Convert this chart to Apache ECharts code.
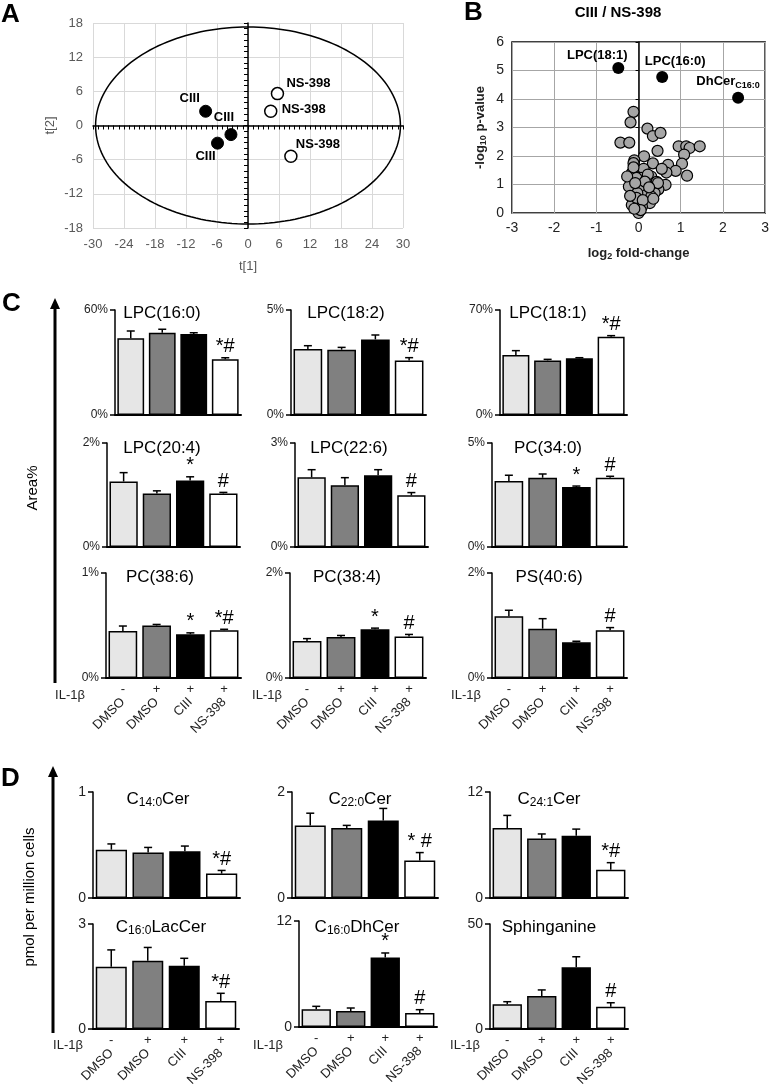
<!DOCTYPE html>
<html><head><meta charset="utf-8">
<script src="https://cdn.jsdelivr.net/npm/echarts@6/dist/echarts.min.js"></script>
<style>html,body{margin:0;padding:0;background:#fff}#c{width:772px;height:1091px}</style>
</head><body><div id="c"></div>
<script>
// ---------------- DATA ----------------
// Panel A (PCA scores)
const pcaCIII = [[-8.2, 2.5], [-3.3, -1.6], [-5.9, -3.1]];
const pcaNS398 = [[5.7, 5.6], [4.4, 2.5], [8.3, -5.4]];
const pcaEllipse = [0, 0, 29.5, 17.3]; // centre x, centre y, radius t[1], radius t[2]
const pcaLabelCIII = 'CIII';
const pcaLabelNS = 'NS-398';

// Panel B (volcano)
const volcanoGray = [
  [-0.12,3.55],[-0.19,3.18],[0.21,2.96],[0.34,2.70],[0.52,2.81],[-0.43,2.47],[-0.22,2.47],
  [0.45,2.18],[0.95,2.34],[1.13,2.34],[1.21,2.28],[1.45,2.34],[1.08,2.05],[0.13,1.99],
  [-0.10,1.85],[-0.12,1.75],[0.34,1.74],[1.03,1.73],[0.70,1.69],[0.12,1.55],[0.88,1.48],
  [0.66,1.42],[1.15,1.31],[-0.16,1.40],[0.30,1.28],[0.06,1.23],[-0.05,1.23],[0.43,1.09],
  [-0.23,0.93],[0.04,0.88],[0.64,0.99],[0.47,0.83],[0.19,0.64],[-0.08,0.47],[0.27,0.35],
  [0.08,0.23],[-0.16,0.28],[0.0,0.0],[-0.12,1.60],[0.22,1.35],[-0.27,1.28],[0.38,0.70],
  [-0.03,0.70],[0.46,1.05],[0.30,0.58],[-0.05,0.53],[0.15,1.10],[-0.20,0.60],[0.10,0.45],
  [0.55,1.55],[0.05,0.10],[-0.08,1.05],[0.25,0.90],[0.35,0.50],[-0.10,0.15]
];
const volcanoHits = [[-0.48, 5.09], [0.56, 4.77], [2.36, 4.04]];
const volcanoHitNames = ['LPC(18:1)', 'LPC(16:0)', 'DhCer'];
const volcanoHitSubs = ['', '', 'C16:0'];

// Panels C / D shared categories
const groups = ['DMSO', 'DMSO', 'CIII', 'NS-398'];
const il1b = ['-', '+', '+', '+'];

// Panel C (Area%)
const cTitles = ['LPC(16:0)', 'LPC(18:2)', 'LPC(18:1)', 'LPC(20:4)', 'LPC(22:6)', 'PC(34:0)', 'PC(38:6)', 'PC(38:4)', 'PS(40:6)'];
const cMax = [60, 5, 70, 2, 3, 5, 1, 2, 2];
const cMeans = [
  [43.8, 47.0, 46.3, 31.8],
  [3.14, 3.11, 3.60, 2.59],
  [40.0, 36.4, 37.8, 52.2],
  [1.26, 1.03, 1.28, 1.03],
  [2.01, 1.78, 2.07, 1.49],
  [3.17, 3.33, 2.88, 3.33],
  [0.448, 0.50, 0.416, 0.454],
  [0.705, 0.78, 0.93, 0.79],
  [1.175, 0.94, 0.68, 0.91]
];
const cErr = [
  [4.2, 2.0, 0.7, 0.9],
  [0.16, 0.11, 0.21, 0.14],
  [2.9, 0.7, 0.4, 0.7],
  [0.17, 0.05, 0.07, 0.02],
  [0.22, 0.22, 0.16, 0.08],
  [0.28, 0.18, 0.05, 0.07],
  [0.047, 0.01, 0.014, 0.01],
  [0.045, 0.03, 0.02, 0.04],
  [0.115, 0.19, 0.02, 0.05]
];
const cSig = [
  ['', '', '', '*#'], ['', '', '', '*#'], ['', '', '', '*#'],
  ['', '', '*', '#'], ['', '', '', '#'], ['', '', '*', '#'],
  ['', '', '*', '*#'], ['', '', '*', '#'], ['', '', '', '#']
];

// Panel D (pmol per million cells)
const dTitleMain = ['C', 'C', 'C', 'C', 'C', 'Sphinganine'];
const dTitleSub = ['14:0', '22:0', '24:1', '16:0', '16:0', ''];
const dTitleTail = ['Cer', 'Cer', 'Cer', 'LacCer', 'DhCer', ''];
const dMax = [1, 2, 12, 3, 12, 50];
const dMeans = [
  [0.456, 0.43, 0.44, 0.23],
  [1.37, 1.32, 1.46, 0.707],
  [7.92, 6.75, 7.05, 3.2],
  [1.78, 1.95, 1.81, 0.8],
  [2.0, 1.81, 7.86, 1.58],
  [11.8, 15.7, 29.4, 10.6]
];
const dErr = [
  [0.054, 0.047, 0.05, 0.03],
  [0.23, 0.05, 0.23, 0.15],
  [1.43, 0.5, 0.75, 0.8],
  [0.48, 0.38, 0.21, 0.22],
  [0.34, 0.34, 0.52, 0.38],
  [1.2, 2.9, 5.0, 1.9]
];
const dSig = [
  ['', '', '', '*#'], ['', '', '', '* #'], ['', '', '', '*#'],
  ['', '', '', '*#'], ['', '', '*', '#'], ['', '', '', '#']
];

// ---------------- LAYOUT / STYLE ----------------
const FONT = 'Liberation Sans, Arial, sans-serif';
const barColors = ['#e6e6e6', '#808080', '#000000', '#ffffff'];
const cBoxes = [
  [115, 310, 126, 105], [291, 310, 135, 105], [500, 310, 127, 105],
  [107, 443, 133, 104], [295, 443, 133, 104], [492, 443, 135, 104],
  [106, 573, 135, 105], [290, 573, 136, 105], [492, 573, 135, 105]
];
const cTitlePos = [[162, 313], [346, 313], [548, 313], [162, 448], [349, 448], [548, 448], [160, 577], [347, 577], [549, 577]];
const dBoxes = [
  [93, 792, 147, 106], [292, 792, 146, 106], [490, 792, 138, 106],
  [93, 924, 146, 105], [299, 921, 138, 106], [490, 924, 138, 105]
];
const dTitlePos = [[158, 799], [360, 799], [549, 799], [161, 927], [357, 927], [549, 927]];
const pcaLabelOffCIII = [[-16, -13], [-7, -17], [-12, 13]];
const pcaLabelOffNS = [[31, -10], [33, -2], [27, -12]];
const hitLabelOff = [[-21, -13], [13, -16], [-10, -16]];

const grids = [], xAxes = [], yAxes = [], series = [], graphics = [];

// ---------------- PANEL A ----------------
grids.push({left: 93, top: 23, width: 310, height: 205});
xAxes.push({gridIndex: 0, type: 'value', min: -30, max: 30, interval: 6,
  axisLine: {show: false, onZero: false}, axisTick: {show: false},
  axisLabel: {color: '#595959', fontSize: 13, margin: 10, fontFamily: FONT},
  splitLine: {lineStyle: {color: '#d9d9d9', width: 1}},
  name: 't[1]', nameLocation: 'middle', nameGap: 32,
  nameTextStyle: {color: '#595959', fontSize: 13, fontFamily: FONT}});
xAxes.push({gridIndex: 0, type: 'value', min: -30, max: 30, interval: 1, position: 'bottom',
  axisLine: {onZero: true, lineStyle: {color: '#000', width: 1.5}},
  axisTick: {show: true, length: 4, lineStyle: {color: '#000', width: 1}},
  axisLabel: {show: false}, splitLine: {show: false}});
yAxes.push({gridIndex: 0, type: 'value', min: -18, max: 18, interval: 6,
  axisLine: {show: false, onZero: false}, axisTick: {show: false},
  axisLabel: {color: '#595959', fontSize: 13, margin: 10, fontFamily: FONT},
  splitLine: {lineStyle: {color: '#d9d9d9', width: 1}},
  name: 't[2]', nameLocation: 'middle', nameGap: 36, nameRotate: 90,
  nameTextStyle: {color: '#595959', fontSize: 13, fontFamily: FONT}});
yAxes.push({gridIndex: 0, type: 'value', min: -18, max: 18, interval: 1, position: 'left',
  axisLine: {onZero: true, lineStyle: {color: '#000', width: 1.5}},
  axisTick: {show: true, length: 4, lineStyle: {color: '#000', width: 1}},
  axisLabel: {show: false}, splitLine: {show: false}});

series.push({type: 'custom', xAxisIndex: 0, yAxisIndex: 0, z: 3, silent: true,
  data: [pcaEllipse],
  renderItem: function (params, api) {
    const c = api.coord([api.value(0), api.value(1)]);
    const sz = api.size([api.value(2), api.value(3)]);
    const pts = [];
    for (let k = 0; k <= 180; k++) {
      const t = k / 180 * 2 * Math.PI;
      pts.push([c[0] + sz[0] * Math.cos(t), c[1] + sz[1] * Math.sin(t)]);
    }
    return {type: 'polyline', shape: {points: pts}, style: {fill: 'none', stroke: '#000', lineWidth: 1.5}};
  }});
series.push({type: 'scatter', xAxisIndex: 0, yAxisIndex: 0, z: 5, symbolSize: 12,
  itemStyle: {color: '#000', borderColor: '#000', borderWidth: 1, opacity: 1},
  data: pcaCIII.map((p, i) => ({value: p, label: {offset: pcaLabelOffCIII[i]}})),
  label: {show: true, position: 'inside', formatter: pcaLabelCIII, color: '#000', fontWeight: 'bold', fontSize: 13, fontFamily: FONT}});
series.push({type: 'scatter', xAxisIndex: 0, yAxisIndex: 0, z: 5, symbolSize: 12,
  itemStyle: {color: '#fff', borderColor: '#000', borderWidth: 1.5, opacity: 1},
  data: pcaNS398.map((p, i) => ({value: p, label: {offset: pcaLabelOffNS[i]}})),
  label: {show: true, position: 'inside', formatter: pcaLabelNS, color: '#000', fontWeight: 'bold', fontSize: 13, fontFamily: FONT}});

// ---------------- PANEL B ----------------
grids.push({left: 512, top: 42, width: 256, height: 171, show: true, borderColor: '#000', borderWidth: 1.5, backgroundColor: 'transparent'});
xAxes.push({gridIndex: 1, type: 'value', min: -3, max: 3, interval: 1,
  axisLine: {show: false, onZero: false}, axisTick: {show: false},
  axisLabel: {color: '#222', fontSize: 14, margin: 8, fontFamily: FONT},
  splitLine: {lineStyle: {color: '#a6a6a6', width: 1}},
  name: '{b|log}{s|2}{b| fold-change}', nameLocation: 'middle', nameGap: 32,
  nameTextStyle: {color: '#222', rich: {
    b: {fontSize: 13, fontWeight: 'bold', fontFamily: FONT, color: '#222', lineHeight: 16},
    s: {fontSize: 9, fontWeight: 'bold', fontFamily: FONT, color: '#222', lineHeight: 9, padding: [7, 0, 0, 0]}}}});
yAxes.push({gridIndex: 1, type: 'value', min: 0, max: 6, interval: 1,
  axisLine: {show: false, onZero: false}, axisTick: {show: false},
  axisLabel: {color: '#222', fontSize: 14, margin: 8, fontFamily: FONT},
  splitLine: {lineStyle: {color: '#a6a6a6', width: 1}},
  name: '{b|-log}{s|10}{b| p-value}', nameLocation: 'middle', nameGap: 24, nameRotate: 90,
  nameTextStyle: {color: '#222', rich: {
    b: {fontSize: 13, fontWeight: 'bold', fontFamily: FONT, color: '#222', lineHeight: 16},
    s: {fontSize: 9, fontWeight: 'bold', fontFamily: FONT, color: '#222', lineHeight: 9, padding: [7, 0, 0, 0]}}}});
yAxes.push({gridIndex: 1, type: 'value', min: 0, max: 6, interval: 1, position: 'left',
  axisLine: {onZero: true, lineStyle: {color: '#000', width: 1.5}},
  axisTick: {show: true, length: 3, lineStyle: {color: '#000', width: 1}},
  axisLabel: {show: false}, splitLine: {show: false}});
series.push({type: 'scatter', xAxisIndex: 2, yAxisIndex: 2, z: 5, symbolSize: 11,
  itemStyle: {color: '#a6a6a6', borderColor: '#000', borderWidth: 1.2, opacity: 1},
  data: volcanoGray});
series.push({type: 'scatter', xAxisIndex: 2, yAxisIndex: 2, z: 6, symbolSize: 12,
  itemStyle: {color: '#000', opacity: 1},
  data: volcanoHits.map((p, i) => ({value: p, name: volcanoHitNames[i], label: {offset: hitLabelOff[i]}})),
  label: {show: true, position: 'inside',
    formatter: function (p) {
      const sub = volcanoHitSubs[p.dataIndex];
      return '{b|' + volcanoHitNames[p.dataIndex] + '}' + (sub ? '{s|' + sub + '}' : '');
    },
    rich: {
      b: {fontSize: 13, fontWeight: 'bold', fontFamily: FONT, color: '#000', lineHeight: 16},
      s: {fontSize: 9, fontWeight: 'bold', fontFamily: FONT, color: '#000', lineHeight: 9, padding: [7, 0, 0, 0]}}}});

// ---------------- BAR PANELS ----------------
function addBarPanel(box, max, means, errs, sigs, isBottom, pct) {
  const g = grids.length;
  grids.push({left: box[0], top: box[1], width: box[2], height: box[3]});
  const xi = xAxes.length;
  xAxes.push({gridIndex: g, type: 'category', data: groups, position: 'bottom',
    axisLine: {lineStyle: {color: '#000', width: 2}}, axisTick: {show: false},
    axisLabel: isBottom ? {show: true, rotate: 45, interval: 0, margin: 22, fontSize: 13, color: '#222', fontFamily: FONT} : {show: false}});
  if (isBottom) {
    xAxes.push({gridIndex: g, type: 'category', data: il1b, position: 'bottom',
      axisLine: {show: false}, axisTick: {show: false},
      axisLabel: {show: true, interval: 0, margin: 5, fontSize: 13, color: '#222', fontFamily: FONT}});
  }
  const yi = yAxes.length;
  yAxes.push({gridIndex: g, type: 'value', min: 0, max: max, interval: max,
    axisLine: {show: true, onZero: false, lineStyle: {color: '#000', width: 1.5}},
    axisTick: {show: true, length: 5, lineStyle: {color: '#000', width: 1.5}},
    axisLabel: {formatter: pct ? '{value}%' : '{value}', fontSize: pct ? 12 : 14, color: '#222', margin: 7, fontFamily: FONT},
    splitLine: {show: false}});
  series.push({type: 'bar', xAxisIndex: xi, yAxisIndex: yi, barWidth: '85%', z: 2, silent: true,
    itemStyle: {borderColor: '#000', borderWidth: 1.5},
    data: means.map((v, i) => ({value: v, itemStyle: {color: barColors[i]}}))});
  series.push({type: 'custom', xAxisIndex: xi, yAxisIndex: yi, z: 4, silent: true,
    data: means.map((v, i) => [i, v, errs[i]]),
    renderItem: function (params, api) {
      const i = api.value(0), v = api.value(1), e = api.value(2);
      const p0 = api.coord([i, v]);
      const p1 = api.coord([i, v + e]);
      const cap = 4;
      const ch = [
        {type: 'line', shape: {x1: p0[0], y1: p0[1], x2: p1[0], y2: p1[1]}, style: {stroke: '#000', lineWidth: 1.5}},
        {type: 'line', shape: {x1: p1[0] - cap, y1: p1[1], x2: p1[0] + cap, y2: p1[1]}, style: {stroke: '#000', lineWidth: 1.5}}
      ];
      const s = sigs[params.dataIndex];
      if (s) ch.push({type: 'text', style: {x: p1[0], y: p1[1] - 1, text: s, align: 'center', verticalAlign: 'bottom', fontSize: 20, fontFamily: FONT, fill: '#000'}});
      return {type: 'group', children: ch};
    }});
}
for (let k = 0; k < 9; k++) addBarPanel(cBoxes[k], cMax[k], cMeans[k], cErr[k], cSig[k], k >= 6, true);
for (let k = 0; k < 6; k++) addBarPanel(dBoxes[k], dMax[k], dMeans[k], dErr[k], dSig[k], k >= 3, false);

// ---------------- TEXT / GRAPHICS ----------------
function txt(x, y, text, opts) {
  graphics.push(Object.assign({type: 'text', x: x, y: y, z: 10, silent: true,
    style: Object.assign({text: text, fill: '#000', fontFamily: FONT, fontSize: 13, align: 'center', verticalAlign: 'middle'}, opts || {})}));
}
txt(1, 15, 'A', {fontSize: 26, fontWeight: 'bold', align: 'left'});
txt(464, 13, 'B', {fontSize: 26, fontWeight: 'bold', align: 'left'});
txt(2, 304, 'C', {fontSize: 26, fontWeight: 'bold', align: 'left'});
txt(1, 779, 'D', {fontSize: 26, fontWeight: 'bold', align: 'left'});
txt(618, 13, 'CIII / NS-398', {fontSize: 15, fontWeight: 'bold'});

cTitles.forEach((t, k) => txt(cTitlePos[k][0], cTitlePos[k][1], t, {fontSize: 17}));
dTitleMain.forEach((t, k) => {
  const s = dTitleSub[k] ? '{n|' + t + '}{s|' + dTitleSub[k] + '}{n|' + dTitleTail[k] + '}' : '{n|' + t + '}';
  txt(dTitlePos[k][0], dTitlePos[k][1], s, {rich: {
    n: {fontSize: 17, fontFamily: FONT, lineHeight: 20},
    s: {fontSize: 12, fontFamily: FONT, lineHeight: 12, padding: [8, 0, 0, 0]}}});
});

// IL-1β row labels
[[70, 695], [267, 695], [466, 695], [68, 1045], [268, 1045], [465, 1045]].forEach(p => txt(p[0], p[1], 'IL-1β', {fontSize: 13, fill: '#222'}));

// axis arrows
graphics.push({type: 'line', z: 10, silent: true, shape: {x1: 55, y1: 683, x2: 55, y2: 306}, style: {stroke: '#000', lineWidth: 3}});
graphics.push({type: 'polygon', z: 10, silent: true, shape: {points: [[55, 298], [50, 309], [60, 309]]}, style: {fill: '#000'}});
graphics.push({type: 'line', z: 10, silent: true, shape: {x1: 53, y1: 1033, x2: 53, y2: 774}, style: {stroke: '#000', lineWidth: 3}});
graphics.push({type: 'polygon', z: 10, silent: true, shape: {points: [[53, 766], [48, 777], [58, 777]]}, style: {fill: '#000'}});
graphics.push({type: 'text', z: 10, silent: true, x: 33, y: 488, rotation: Math.PI / 2,
  style: {text: 'Area%', fontSize: 15, fontFamily: FONT, fill: '#000', align: 'center', verticalAlign: 'middle'}});
graphics.push({type: 'text', z: 10, silent: true, x: 30, y: 897, rotation: Math.PI / 2,
  style: {text: 'pmol per million cells', fontSize: 15, fontFamily: FONT, fill: '#000', align: 'center', verticalAlign: 'middle'}});

const chart = echarts.init(document.getElementById('c'));
chart.setOption({
  animation: false,
  backgroundColor: '#fff',
  textStyle: {fontFamily: FONT},
  grid: grids, xAxis: xAxes, yAxis: yAxes, series: series, graphic: graphics
});
</script></body></html>
